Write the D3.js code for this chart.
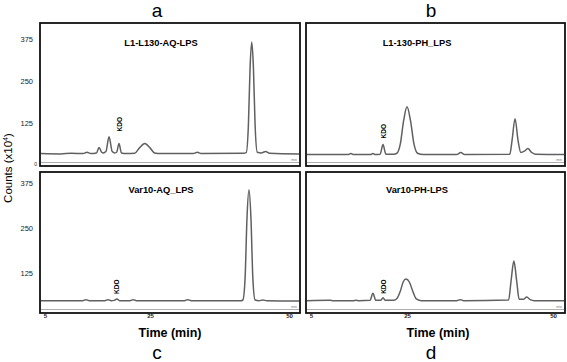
<!DOCTYPE html>
<html>
<head>
<meta charset="utf-8">
<style>
  body { margin: 0; background: #fff; }
  svg { display: block; font-family: "Liberation Sans", Arial, sans-serif; }
</style>
</head>
<body>
<svg id="chart" width="567" height="362"></svg>
<script src="https://d3js.org/d3.v7.min.js"></script>
<script>
// chromatogram traces: [time (min), counts (x10^4)]
const traceA = [[4,34],[8,33],[10,35],[12.3,34],[13,38],[13.7,34],[14.8,36],[15.3,52],[15.8,38],[16.1,36],[16.6,40],[17.2,84],[17.8,40],[18.3,36],[18.65,38],[19.1,64],[19.55,36],[20.5,34],[22.1,35],[23,51],[24,64],[25,51],[25.8,36],[27,34],[32.8,34],[33.5,38],[34.2,34],[41.8,35],[42.3,37],[42.7,120],[43.0,290],[43.3,366],[43.6,290],[43.9,120],[44.3,38],[45.0,36],[45.8,40],[46.5,35],[52,33]];
const traceB = [[4,31],[12.7,31],[13.3,34],[13.9,31],[17.4,31],[17.9,34],[18.4,31],[19.4,32],[20,61],[20.6,32],[22.2,32],[22.9,35],[23.6,62],[24.3,132],[25,173],[25.6,132],[26.2,62],[26.8,35],[27.8,31],[33.5,31],[34.2,37],[34.9,31],[42.6,32],[43.0,75],[43.5,138],[44.0,75],[44.5,37],[45.1,41],[45.7,49],[46.3,38],[47,32],[52,31]];
const traceC = [[4,48],[12.2,48],[12.8,51],[13.4,48],[16.4,48],[17,51],[17.6,48],[18.2,49],[18.7,53],[19.2,48],[21.2,48],[21.8,51],[22.4,48],[31.2,48],[31.8,51],[32.4,48],[41.3,48],[41.7,50],[42.1,110],[42.45,280],[42.8,356],[43.15,280],[43.5,110],[43.9,50],[44.6,48],[45.3,50],[46,48],[52,47]];
const traceD = [[4,48],[9,49],[9.6,48],[13.8,48],[14.4,49],[15,48],[17.3,49],[17.9,69],[18.5,49],[19.5,49],[20,56],[20.5,49],[22.2,49],[22.9,54],[23.6,74],[24.2,100],[24.8,108],[25.4,100],[26,74],[26.6,53],[27.5,48],[33.5,48],[34.1,51],[34.7,48],[42.4,50],[42.8,100],[43.3,158],[43.8,100],[44.2,52],[44.9,52],[45.5,58],[46.1,51],[46.8,48],[52,48]];

const titles = ["L1-L130-AQ-LPS", "L1-130-PH_LPS", "Var10-AQ_LPS", "Var10-PH-LPS"];
const letters = ["a", "b", "c", "d"];
const kdoTimes = [19.1, 20.0, 18.7, 20.0];
const timeTicks = [5, 25, 50];
const countTicksTop = [0, 125, 250, 375];
const countTicksBottom = [125, 250, 375];

const svg = d3.select('#chart');

// panel boxes
const panels = [
  {x: 40,  y: 23,  w: 260, h: 143, col: 0, row: 0, data: traceA, kdoGap: 12},
  {x: 306, y: 23,  w: 259, h: 143, col: 1, row: 0, data: traceB, kdoGap: 6},
  {x: 40,  y: 172, w: 260, h: 141, col: 0, row: 1, data: traceC, kdoGap: 5},
  {x: 306, y: 172, w: 259, h: 141, col: 1, row: 1, data: traceD, kdoGap: 4}
];

// tick labels in the figure are not evenly spread, so use a piecewise scale
const xRanges = [[5, 110, 249], [5, 101, 247]];
const yRanges = [[142, 16], [146, 11]];

panels.forEach((p, i) => {
  const x = d3.scaleLinear().domain(timeTicks).range(xRanges[p.col]);
  const y = d3.scaleLinear().domain([0, 375]).range(yRanges[p.row]);

  const g = svg.append('g').attr('transform', `translate(${p.x},${p.y})`);

  g.append('defs').append('clipPath').attr('id', 'clip' + i)
    .append('rect').attr('x', 1).attr('y', 1).attr('width', p.w - 2).attr('height', p.h - 2);

  // inner grey line near the bottom
  g.append('line')
    .attr('x1', 1).attr('x2', p.w - 1)
    .attr('y1', p.h - 3.5).attr('y2', p.h - 3.5)
    .attr('stroke', '#9a9a9a').attr('stroke-width', 0.8);

  const line = d3.line()
    .x(d => x(d[0]))
    .y(d => y(d[1]))
    .curve(d3.curveMonotoneX);

  g.append('path')
    .attr('d', line(p.data))
    .attr('clip-path', `url(#clip${i})`)
    .attr('fill', 'none')
    .attr('stroke', '#606060')
    .attr('stroke-width', 1.5);

  g.append('rect')
    .attr('width', p.w).attr('height', p.h)
    .attr('fill', 'none').attr('stroke', '#111').attr('stroke-width', 1.8);

  // title
  g.append('text')
    .attr('x', p.col === 0 ? 121 : 111).attr('y', p.row === 0 ? 23 : 21)
    .attr('text-anchor', 'middle')
    .attr('font-size', 9.3).attr('font-weight', 'bold')
    .text(titles[i]);

  // KDO marker
  const kdoVal = d3.max(p.data.filter(d => Math.abs(d[0] - kdoTimes[i]) < 0.01), d => d[1]);
  g.append('text')
    .attr('transform', `translate(${x(kdoTimes[i]) + 2.5},${y(kdoVal) - p.kdoGap}) rotate(-90)`)
    .attr('font-size', 6.5).attr('font-weight', 'bold')
    .text('KDO');

  // tiny unit mark in bottom right corner
  g.append('text')
    .attr('x', p.w - 3).attr('y', p.h - 5)
    .attr('text-anchor', 'end')
    .attr('font-size', 3.5).attr('fill', '#777')
    .text('min');

  // y axis on left column
  if (p.col === 0) {
    const yAxis = d3.axisLeft(y)
      .tickValues(p.row === 0 ? countTicksTop : countTicksBottom)
      .tickSize(0).tickPadding(7);
    const ga = g.append('g').call(yAxis);
    ga.select('.domain').remove();
    ga.selectAll('text')
      .attr('font-size', 7.5).attr('fill', '#222')
      .attr('font-family', '"Liberation Sans", Arial, sans-serif');
    ga.selectAll('.tick').filter(d => d === 0).select('text')
      .attr('font-size', 5).attr('dx', 4).attr('dy', '0.1em');
  }

  // x axis on bottom row
  if (p.row === 1) {
    const xAxis = d3.axisBottom(x).tickValues(timeTicks).tickSize(0).tickPadding(1);
    const gx = g.append('g').attr('transform', `translate(0,${p.h})`).call(xAxis);
    gx.select('.domain').remove();
    gx.selectAll('text')
      .attr('font-size', 6).attr('font-weight', 'bold').attr('fill', '#222')
      .attr('font-family', '"Liberation Sans", Arial, sans-serif');

    svg.append('text')
      .attr('x', p.x + (p.col === 0 ? 130 : 132)).attr('y', 337)
      .attr('text-anchor', 'middle')
      .attr('font-size', 12.5).attr('font-weight', 'bold')
      .text('Time (min)');
  }

  // panel letter
  svg.append('text')
    .attr('x', p.x + (p.col === 0 ? 117 : 125))
    .attr('y', p.row === 0 ? 17 : 359)
    .attr('text-anchor', 'middle')
    .attr('font-size', 19)
    .text(letters[i]);
});

// shared y label
const yLab = svg.append('text')
  .attr('transform', 'translate(12,168) rotate(-90)')
  .attr('text-anchor', 'middle')
  .attr('font-size', 11.5);
yLab.append('tspan').text('Counts (x10');
yLab.append('tspan').attr('dy', -4).attr('font-size', 7).text('4');
yLab.append('tspan').attr('dy', 4).text(')');
</script>
</body>
</html>
